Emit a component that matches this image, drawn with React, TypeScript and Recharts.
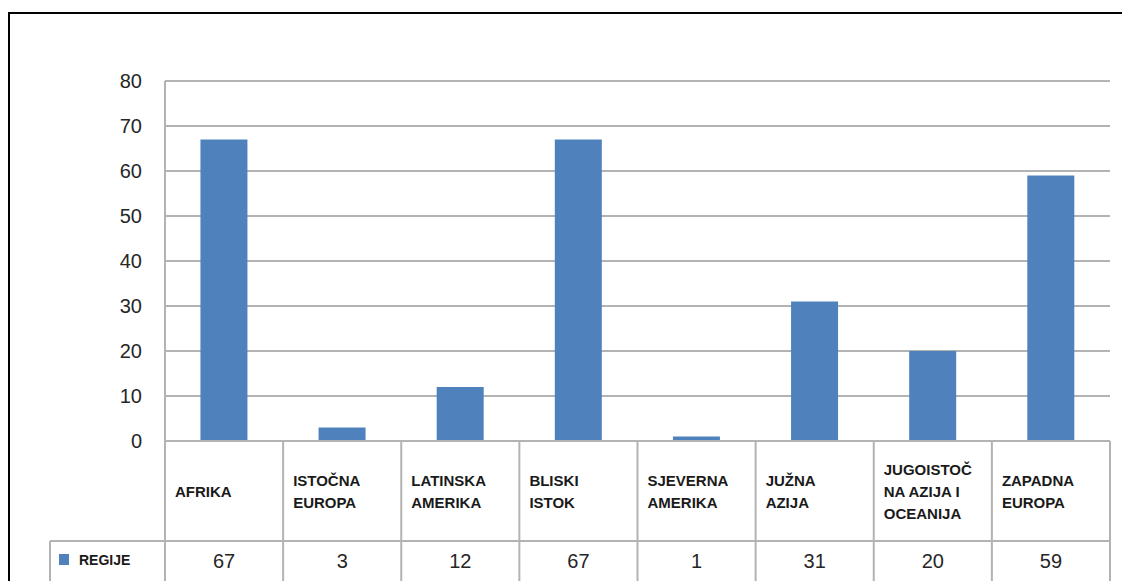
import React from "react";
import { BarChart, Bar, XAxis, YAxis, CartesianGrid } from "recharts";

const categories = [
  "AFRIKA",
  "ISTOČNA\nEUROPA",
  "LATINSKA\nAMERIKA",
  "BLISKI\nISTOK",
  "SJEVERNA\nAMERIKA",
  "JUŽNA\nAZIJA",
  "JUGOISTOČ\nNA AZIJA I\nOCEANIJA",
  "ZAPADNA\nEUROPA",
];
const regije = [67, 3, 12, 67, 1, 31, 20, 59];
const yTicks = [0, 10, 20, 30, 40, 50, 60, 70, 80];
const seriesName = "REGIJE";

const data = categories.map((c, i) => ({ name: c, value: regije[i] }));

const W = 1112;
const H = 567;
const MARGIN = { top: 67, right: 12, left: 0, bottom: 0 };
const Y_WIDTH = 155;
const BAND = (W - MARGIN.right - MARGIN.left - Y_WIDTH) / categories.length;
const GRID = "#b3b3b3";
const BLUE = "#4f81bd";
const FONT = "'Liberation Sans', Arial, sans-serif";

function TableTick(props: any) {
  const { x, y, payload } = props;
  const i = payload.index;
  const left = x - BAND / 2;
  const right = x + BAND / 2;
  const lines = String(payload.value).split("\n");
  const lh = 22;
  const startY = y + 50 - ((lines.length - 1) * lh) / 2;
  return (
    <g>
      <line x1={right} y1={y} x2={right} y2={H} stroke={GRID} strokeWidth={2} />
      <line x1={left} y1={y + 100} x2={right} y2={y + 100} stroke={GRID} strokeWidth={2} />
      {i === 0 && (
        <g>
          <line x1={left} y1={y} x2={left} y2={H} stroke={GRID} strokeWidth={2} />
          <line x1={40} y1={y + 100} x2={left} y2={y + 100} stroke={GRID} strokeWidth={2} />
          <line x1={40} y1={y + 100} x2={40} y2={H} stroke={GRID} strokeWidth={2} />
          <rect x={49} y={y + 113} width={10} height={11} fill={BLUE} />
          <text
            x={69}
            y={y + 119}
            dominantBaseline="central"
            fontFamily={FONT}
            fontWeight="bold"
            fontSize={14}
            fill="#1a1a1a"
          >
            {seriesName}
          </text>
        </g>
      )}
      {lines.map((ln, k) => (
        <text
          key={k}
          x={left + 10}
          y={startY + k * lh}
          dominantBaseline="central"
          fontFamily={FONT}
          fontWeight="bold"
          fontSize={15}
          fill="#1a1a1a"
        >
          {ln}
        </text>
      ))}
      <text
        x={x}
        y={y + 120}
        textAnchor="middle"
        dominantBaseline="central"
        fontFamily={FONT}
        fontSize={20}
        fill="#262626"
      >
        {regije[i]}
      </text>
    </g>
  );
}

export default function App() {
  return (
    <div
      style={{
        position: "fixed",
        left: 0,
        top: 0,
        width: 1122,
        height: 581,
        overflow: "hidden",
        background: "#fff",
      }}
    >
      <div
        style={{
          position: "absolute",
          left: 8,
          top: 12,
          width: W + 2,
          height: H + 2,
          borderTop: "2px solid #000",
          borderLeft: "2px solid #000",
        }}
      >
        <BarChart width={W} height={H} data={data} margin={MARGIN} barCategoryGap="30%">
          <CartesianGrid horizontal vertical={false} stroke={GRID} strokeWidth={2} />
          <YAxis
            width={Y_WIDTH}
            domain={[0, 80]}
            ticks={yTicks}
            interval={0}
            tickLine={false}
            tickSize={0}
            tickMargin={23}
            axisLine={{ stroke: GRID, strokeWidth: 2 }}
            tick={{ fontSize: 20, fill: "#262626", fontFamily: FONT }}
          />
          <XAxis
            dataKey="name"
            height={140}
            interval={0}
            tickLine={false}
            tickSize={0}
            tickMargin={0}
            axisLine={{ stroke: GRID, strokeWidth: 2 }}
            tick={<TableTick />}
          />
          <Bar dataKey="value" fill={BLUE} isAnimationActive={false} />
        </BarChart>
      </div>
    </div>
  );
}
